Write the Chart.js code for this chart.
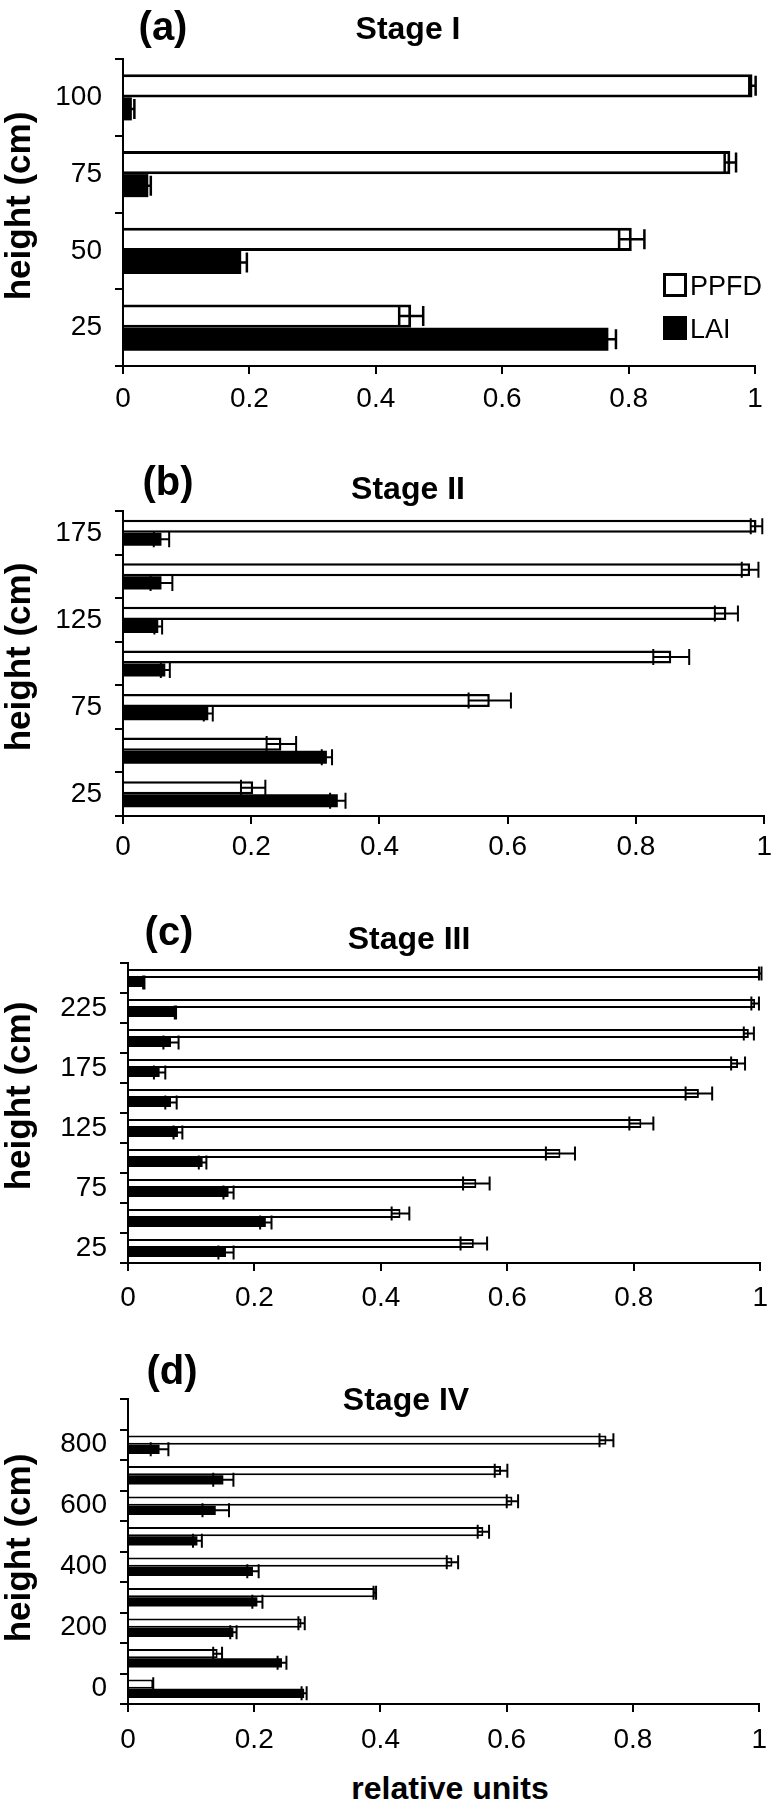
<!DOCTYPE html>
<html>
<head>
<meta charset="utf-8">
<script src="https://cdn.jsdelivr.net/npm/chart.js@4.4.0/dist/chart.umd.min.js"></script>
<style>
body { margin: 0; background: #fff; }
#page { position: relative; width: 778px; height: 1811px; overflow: hidden; font-family: 'Liberation Sans', Arial, sans-serif; color: #000; }
#page canvas { position: absolute; left: 0; }
.txt { position: absolute; transform: translate(-50%, -50%); line-height: 1; white-space: nowrap; }
.panel { font-weight: bold; font-size: 40px; }
.stage { font-weight: bold; font-size: 32px; }
.ytitle { font-weight: bold; font-size: 35px; transform: translate(-50%, -50%) rotate(-90deg); }
.xtitle { font-weight: bold; font-size: 32px; }
.lg { font-size: 27px; transform: translate(0, -50%); }
.box { position: absolute; width: 24px; height: 24px; box-sizing: border-box; border: 3px solid #000; }
</style>
</head>
<body>
<div id="page">
  <canvas id="chartA"></canvas>
  <canvas id="chartB"></canvas>
  <canvas id="chartC"></canvas>
  <canvas id="chartD"></canvas>

  <div class="txt panel" style="left:163px; top:26px">(a)</div>
  <div class="txt stage" style="left:408px; top:28px">Stage I</div>
  <div class="txt ytitle" style="left:17px; top:206px">height (cm)</div>
  <div class="box" style="left:663px; top:273px; background:#fff"></div>
  <div class="txt lg" style="left:690px; top:286px">PPFD</div>
  <div class="box" style="left:663px; top:316px; background:#000"></div>
  <div class="txt lg" style="left:690px; top:329px">LAI</div>

  <div class="txt panel" style="left:168px; top:481px">(b)</div>
  <div class="txt stage" style="left:408px; top:488px">Stage II</div>
  <div class="txt ytitle" style="left:17px; top:657px">height (cm)</div>

  <div class="txt panel" style="left:169px; top:931px">(c)</div>
  <div class="txt stage" style="left:409px; top:938px">Stage III</div>
  <div class="txt ytitle" style="left:17px; top:1096px">height (cm)</div>

  <div class="txt panel" style="left:172px; top:1370px">(d)</div>
  <div class="txt stage" style="left:406px; top:1399px">Stage IV</div>
  <div class="txt ytitle" style="left:17px; top:1548px">height (cm)</div>

  <div class="txt xtitle" style="left:450px; top:1788px">relative units</div>
</div>
<script>
// Stage I (heights listed bottom to top)
const heightsA = ['25', '50', '75', '100'];
const ppfdA = [0.456, 0.805, 0.961, 0.996];
const ppfdErrA = [0.019, 0.020, 0.009, 0.005];
const laiA = [0.768, 0.187, 0.040, 0.014];
const laiErrA = [0.012, 0.009, 0.004, 0.004];

// Stage II
const heightsB = ['25', '50', '75', '100', '125', '150', '175'];
const ppfdB = [0.203, 0.247, 0.572, 0.855, 0.941, 0.978, 0.988];
const ppfdErrB = [0.019, 0.023, 0.033, 0.028, 0.018, 0.013, 0.009];
const laiB = [0.335, 0.318, 0.133, 0.066, 0.055, 0.060, 0.060];
const laiErrB = [0.012, 0.008, 0.007, 0.007, 0.006, 0.017, 0.012];

// Stage III
const heightsC = ['25', '50', '75', '100', '125', '150', '175', '200', '225', '250'];
const ppfdC = [0.547, 0.431, 0.551, 0.684, 0.812, 0.903, 0.965, 0.982, 0.992, 1.0];
const ppfdErrC = [0.021, 0.014, 0.021, 0.023, 0.019, 0.021, 0.011, 0.008, 0.006, 0.002];
const laiC = [0.155, 0.218, 0.159, 0.118, 0.079, 0.068, 0.050, 0.068, 0.075, 0.025];
const laiErrC = [0.012, 0.009, 0.008, 0.006, 0.007, 0.009, 0.009, 0.012, 0.001, 0.001];

// Stage IV (top category has no data)
const heightsD = ['0', '100', '200', '300', '400', '500', '600', '700', '800', '900'];
const ppfdD = [0.040, 0.142, 0.275, 0.391, 0.514, 0.563, 0.609, 0.591, 0.758, null];
const ppfdErrD = [0.000, 0.007, 0.005, 0.002, 0.009, 0.009, 0.009, 0.010, 0.011, null];
const laiD = [0.279, 0.244, 0.167, 0.205, 0.198, 0.110, 0.139, 0.151, 0.050, null];
const laiErrD = [0.004, 0.007, 0.005, 0.008, 0.009, 0.007, 0.021, 0.016, 0.014, null];

const xTicks = [0, 0.2, 0.4, 0.6, 0.8, 1];

// plot area of each panel on the page
const layout = [
  { id: 'chartA', top: 59, bottom: 366, left: 123, right: 755, cap: 20, xPad: 8, every: 1, bw: 3, ew: 2.5 },
  { id: 'chartB', top: 511, bottom: 816, left: 123, right: 767, cap: 16, xPad: 6, every: 2, bw: 2.5, ew: 2 },
  { id: 'chartC', top: 963, bottom: 1263, left: 128, right: 768, cap: 14, xPad: 10, every: 2, bw: 2, ew: 2 },
  { id: 'chartD', top: 1399, bottom: 1704, left: 128, right: 768, cap: 14, xPad: 11, every: 2, bw: 2, ew: 2 }
];

const errorBars = {
  id: 'errorBars',
  afterDatasetsDraw(chart, args, opts) {
    const ctx = chart.ctx;
    const xs = chart.scales.x;
    ctx.save();
    ctx.strokeStyle = '#000';
    ctx.lineWidth = opts.width;
    chart.data.datasets.forEach((ds, i) => {
      const meta = chart.getDatasetMeta(i);
      meta.data.forEach((bar, j) => {
        const v = ds.data[j], e = ds.errors[j];
        if (v == null || e == null) return;
        const x1 = xs.getPixelForValue(v - e);
        const x2 = xs.getPixelForValue(v + e);
        const y = bar.y, h = opts.cap / 2;
        ctx.beginPath();
        ctx.moveTo(x1, y); ctx.lineTo(x2, y);
        ctx.moveTo(x1, y - h); ctx.lineTo(x1, y + h);
        ctx.moveTo(x2, y - h); ctx.lineTo(x2, y + h);
        ctx.stroke();
      });
    });
    ctx.restore();
  }
};

Chart.defaults.font.family = "'Liberation Sans', Arial, sans-serif";
Chart.defaults.color = '#000';

function makePanel(L, heights, ppfd, ppfdErr, lai, laiErr) {
  const padTop = 45, axisH = 52;
  const canvas = document.getElementById(L.id);
  canvas.width = 778;
  canvas.height = L.bottom - L.top + padTop + axisH;
  canvas.style.top = (L.top - padTop) + 'px';

  new Chart(canvas.getContext('2d'), {
    type: 'bar',
    data: {
      labels: heights,
      datasets: [{
        label: 'PPFD',
        data: ppfd,
        errors: ppfdErr,
        backgroundColor: '#fff',
        borderColor: '#000',
        borderWidth: L.bw,
        categoryPercentage: 0.6,
        barPercentage: 1.0
      }, {
        label: 'LAI',
        data: lai,
        errors: laiErr,
        backgroundColor: '#000',
        borderColor: '#000',
        borderWidth: 0,
        categoryPercentage: 0.6,
        barPercentage: 1.0
      }]
    },
    options: {
      indexAxis: 'y',
      responsive: false,
      animation: false,
      layout: { padding: { top: padTop, left: 0, bottom: 0, right: 778 - L.right } },
      scales: {
        x: {
          min: 0,
          max: 1,
          afterBuildTicks: s => { s.ticks = xTicks.map(v => ({ value: v })); },
          afterFit: s => { s.height = axisH; },
          ticks: { font: { size: 28 }, padding: L.xPad, callback: v => String(v) },
          grid: { drawOnChartArea: false, drawTicks: true, tickLength: 8, color: '#000', lineWidth: 2 },
          border: { display: true, color: '#000', width: 2 }
        },
        y: {
          reverse: true,
          afterFit: s => { s.width = L.left; },
          ticks: {
            autoSkip: false,
            font: { size: 28 },
            padding: 13,
            callback: (v, i) => (i % L.every === 0 ? heights[i] : '')
          },
          grid: { drawOnChartArea: false, drawTicks: true, tickLength: 8, color: '#000', lineWidth: 2 },
          border: { display: true, color: '#000', width: 2 }
        }
      },
      plugins: {
        legend: { display: false },
        tooltip: { enabled: false },
        errorBars: { cap: L.cap, width: L.ew }
      }
    },
    plugins: [errorBars]
  });
}

makePanel(layout[0], heightsA, ppfdA, ppfdErrA, laiA, laiErrA);
makePanel(layout[1], heightsB, ppfdB, ppfdErrB, laiB, laiErrB);
makePanel(layout[2], heightsC, ppfdC, ppfdErrC, laiC, laiErrC);
makePanel(layout[3], heightsD, ppfdD, ppfdErrD, laiD, laiErrD);
</script>
</body>
</html>
